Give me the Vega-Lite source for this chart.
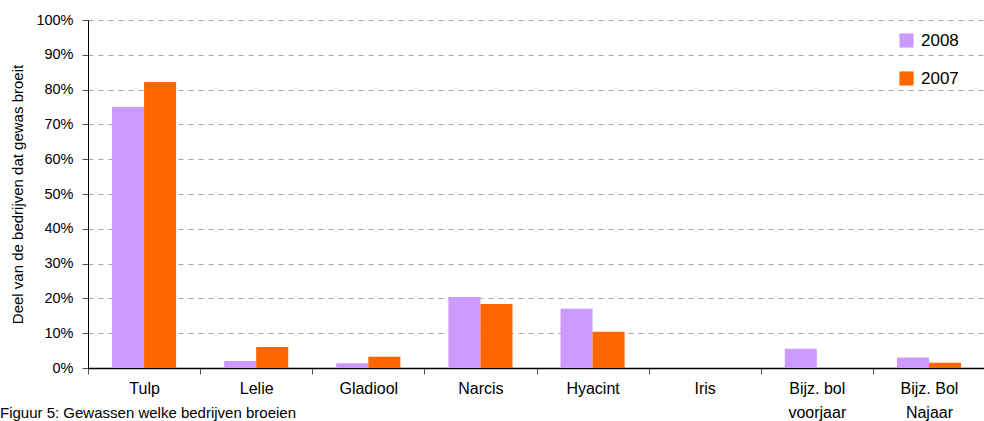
{
  "$schema": "https://vega.github.io/schema/vega-lite/v6.json",
  "autosize": {"type": "none"},
  "width": 897,
  "height": 348,
  "padding": {"left": 88, "top": 20, "right": 0, "bottom": 53},
  "background": "white",
  "config": {
    "font": "Liberation Sans",
    "view": {"stroke": null}
  },
  "title": {
    "text": "Figuur 5: Gewassen welke bedrijven broeien",
    "orient": "bottom",
    "anchor": "start",
    "frame": "group",
    "dx": -88,
    "offset": -14,
    "fontSize": 15,
    "fontWeight": "normal",
    "color": "black",
    "font": "Liberation Sans"
  },
  "data": {
    "values": [
      {"gewas": "Tulp", "jaar": "2008", "aandeel": 75.0},
      {"gewas": "Tulp", "jaar": "2007", "aandeel": 82.2},
      {"gewas": "Lelie", "jaar": "2008", "aandeel": 2.0},
      {"gewas": "Lelie", "jaar": "2007", "aandeel": 6.0},
      {"gewas": "Gladiool", "jaar": "2008", "aandeel": 1.4},
      {"gewas": "Gladiool", "jaar": "2007", "aandeel": 3.2},
      {"gewas": "Narcis", "jaar": "2008", "aandeel": 20.4},
      {"gewas": "Narcis", "jaar": "2007", "aandeel": 18.4},
      {"gewas": "Hyacint", "jaar": "2008", "aandeel": 17.0},
      {"gewas": "Hyacint", "jaar": "2007", "aandeel": 10.4},
      {"gewas": "Iris", "jaar": "2008", "aandeel": 0},
      {"gewas": "Iris", "jaar": "2007", "aandeel": 0},
      {"gewas": "Bijz. bol|voorjaar", "jaar": "2008", "aandeel": 5.5},
      {"gewas": "Bijz. bol|voorjaar", "jaar": "2007", "aandeel": 0},
      {"gewas": "Bijz. Bol|Najaar", "jaar": "2008", "aandeel": 3.0},
      {"gewas": "Bijz. Bol|Najaar", "jaar": "2007", "aandeel": 1.5}
    ]
  },
  "mark": {"type": "bar"},
  "encoding": {
    "x": {
      "field": "gewas",
      "type": "nominal",
      "sort": null,
      "scale": {"paddingInner": 0, "paddingOuter": 0},
      "axis": {
        "title": null,
        "labelAngle": 0,
        "labelExpr": "split(datum.label, '|')",
        "labelFontSize": 16,
        "labelColor": "black",
        "labelPadding": 6,
        "labelLineHeight": 24,
        "tickBand": "extent",
        "tickColor": "#555",
        "tickSize": 6,
        "domainColor": "black",
        "domainWidth": 1.5,
        "grid": false
      }
    },
    "xOffset": {
      "field": "jaar",
      "type": "nominal",
      "sort": ["2008", "2007"],
      "scale": {"paddingInner": 0, "paddingOuter": 0.75}
    },
    "y": {
      "field": "aandeel",
      "type": "quantitative",
      "scale": {"domain": [0, 100], "nice": false},
      "axis": {
        "title": "Deel van de bedrijven dat gewas broeit",
        "titleFontSize": 15,
        "titleFontWeight": "normal",
        "titleColor": "black",
        "titlePadding": 10,
        "values": [0, 10, 20, 30, 40, 50, 60, 70, 80, 90, 100],
        "labelExpr": "datum.value + '%'",
        "labelFontSize": 14.5,
        "labelColor": "black",
        "labelPadding": 9,
        "tickColor": "#555",
        "tickSize": 6,
        "domainColor": "black",
        "grid": true,
        "gridColor": "#a6a6a6",
        "gridDash": [5, 5],
        "gridWidth": 1
      }
    },
    "color": {
      "field": "jaar",
      "type": "nominal",
      "sort": ["2008", "2007"],
      "scale": {"domain": ["2008", "2007"], "range": ["#cc99ff", "#ff6600"]},
      "legend": {
        "title": null,
        "orient": "none",
        "legendX": 810,
        "legendY": 12,
        "symbolType": "square",
        "symbolSize": 200,
        "symbolStrokeWidth": 0,
        "labelFontSize": 17,
        "labelColor": "black",
        "rowPadding": 20,
        "labelOffset": 6
      }
    }
  }
}
